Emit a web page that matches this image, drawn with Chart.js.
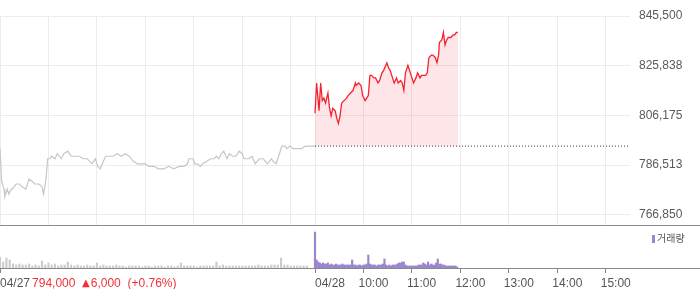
<!DOCTYPE html>
<html>
<head>
<meta charset="utf-8">
<script src="https://cdn.jsdelivr.net/npm/chart.js@4.4.1/dist/chart.umd.min.js"></script>
<style>
html, body { margin: 0; padding: 0; background: #fff; }
#wrap { position: relative; width: 700px; height: 289px; overflow: hidden; }
#price { position: absolute; left: 0; top: 0; }
#sep { position: absolute; left: 0; top: 225px; width: 700px; height: 1px; background: #8c8c8c; }
#vol { position: absolute; left: 0; top: 226px; }
#legend { position: absolute; left: 652px; top: 231px; font: 10px "Noto Sans CJK KR", sans-serif; color: #555; line-height: 14px; }
#legend i { display: inline-block; width: 3px; height: 8px; background: #9a86cc; margin-right: 2px; vertical-align: -1px; }
</style>
</head>
<body>
<div id="wrap">
  <canvas id="price" width="700" height="225"></canvas>
  <div id="sep"></div>
  <canvas id="vol" width="700" height="63"></canvas>
  <div id="legend"><i></i>거래량</div>
</div>
<script>
// minutes counted from 04/27 09:00 (04/28 09:00 = 390)
const prevMin = [0,2,5,6,9,11,14,15,20,24,27,32,36,40,43,48,52,54,57,59,
  62,64,68,71,76,79,84,88,93,98,103,108,114,118,121,124,128,131,135,140,
  145,150,155,160,165,170,175,180,184,191,196,203,209,215,222,228,232,234,239,241,
  244,248,251,256,261,265,268,271,274,277,281,284,288,292,296,300,302,306,308,312,
  316,321,326,331,336,338,342,345,349,353,355,359,363,368,373,378,383,390];
const prevPrice = [793000,780000,777000,774000,777000,775000,777000,777000,779000,779000,
  778000,777000,781000,780000,779000,779000,778000,775000,781000,789000,
  789000,790000,789000,791000,789000,791000,792000,790000,790000,790000,
  789000,789000,787000,789000,786000,785000,788000,790000,790000,790000,
  791000,790000,791000,790000,788000,787000,787000,787000,786000,786000,
  785000,785000,786000,785000,786000,786000,787000,789000,789000,787000,
  787000,786000,787000,788000,789000,789000,790000,789000,791000,792000,
  789000,791000,790000,790000,792000,791000,789000,789000,789000,790000,
  787000,789000,789000,787000,789000,788000,787000,790000,794000,794000,
  793000,794000,793000,793000,793000,794000,794000,794000];

const curMin = [390,392,395,397,399,401,403,406,408,410,412,415,417,419,421,423,426,429,431,434,
  437,440,441,444,447,449,452,454,456,458,460,463,465,468,470,473,475,479,481,483,
  486,488,491,493,496,498,500,502,505,507,510,512,515,517,520,522,525,527,529,531,
  534,536,539,541,543,544,547,549,551,553,555,557,558,561,563,565,567];
const curPrice = [807000,819000,808000,819000,812000,813000,811000,815000,809000,806000,
  809000,808000,805000,803000,806000,811000,812000,813000,814000,815000,
  816000,819000,818000,819000,818000,814000,812000,813000,814000,822000,
  822000,821000,821000,819000,820000,823000,824000,827000,825000,824000,
  821000,819000,821000,819000,820000,819000,816000,823000,826000,824000,
  821000,819000,821000,823000,821000,822000,822000,822000,823000,829000,
  830000,830000,829000,827000,830000,835000,836000,839000,834000,836000,
  837000,837000,837000,838000,838000,839000,839000];

const prevClose = 794000;
const prevChange = 6000;
const prevChangePct = 0.76;

// volume (relative units) in fixed time slots
const prevVolStart = 0, prevVolStep = 4;
const prevVol = [11,6,10,8,4,3,4,3,3,4, 2,3,2,7,3,5,3,4,2,3, 3,6,3,2,3,2,2,3,2,2,
  5,2,3,2,2,2,3,2,2,1, 2,2,2,2,1,2,2,1,2,2, 2,1,2,2,1,2,5,2,2,2,
  2,1,2,2,2,2,2,6,2,3, 2,2,2,2,2,2,2,2,2,2, 3,2,2,2,3,3,3,10,3,3,
  2,2,2,2,2,2];
const curVolStart = 390, curVolStep = 2;
const curVol = [36,8,6,5,4,5,4,4,5,3, 4,3,3,4,3,3,3,4,3,3, 3,3,3,8,3,3,2,3,3,2,
  3,3,4,13,4,3,3,3,2,3, 3,3,4,9,3,2,3,2,3,3, 3,4,5,5,6,6,3,2,2,2,
  2,2,2,2,3,3,3,5,4,3, 6,3,4,3,3,5,9,4,4,3, 3,2,2,2,2,2,2,2,1];

const priceTicks = [766850, 786512.5, 806175, 825837.5, 845500];
const gridMin = [0,60,120,180,240,300,360,390,450,510,570,630,690,750];
const axisMin = [0,390,450,510,570,630,690,750];
const axisLabels = ['04/27','04/28','10:00','11:00','12:00','13:00','14:00','15:00'];

Chart.defaults.font.family = '"Liberation Sans", Arial, sans-serif';
Chart.defaults.animation = false;

const xy = (xs, ys) => xs.map((x, i) => ({x: x, y: ys[i]}));

new Chart(document.getElementById('price'), {
  type: 'line',
  data: {
    datasets: [
      {
        data: xy(curMin, curPrice),
        borderColor: '#f5232f',
        borderWidth: 1.3,
        backgroundColor: 'rgba(248,60,75,0.13)',
        fill: {value: prevClose},
        pointRadius: 0,
      },
      {
        data: xy(prevMin, prevPrice),
        borderColor: '#c6c6cc',
        borderWidth: 1.2,
        pointRadius: 0,
        fill: false,
      },
      {
        data: [{x: 390, y: prevClose}, {x: 780, y: prevClose}],
        borderColor: '#333',
        borderWidth: 1,
        borderDash: [1, 2],
        pointRadius: 0,
        fill: false,
      },
    ]
  },
  options: {
    responsive: false,
    layout: {padding: {top: 16, left: 0, right: 0, bottom: 0}},
    plugins: {legend: {display: false}, tooltip: {enabled: false}},
    scales: {
      x: {
        type: 'linear',
        min: 0,
        max: 780,
        afterBuildTicks: s => { s.ticks = gridMin.map(v => ({value: v})); },
        ticks: {display: false},
        grid: {color: '#ececec', drawTicks: false},
        border: {display: false},
      },
      y: {
        position: 'right',
        min: 762780,
        max: 845500,
        afterBuildTicks: s => { s.ticks = priceTicks.map(v => ({value: v})); },
        afterFit: s => { s.width = 70; s.paddingTop = 0; s.paddingBottom = 0; },
        ticks: {
          padding: 9,
          color: '#5a5a5a',
          font: {size: 12},
          callback: v => Math.round(v).toLocaleString('en-US'),
        },
        grid: {color: '#ececec', drawTicks: false},
        border: {display: false},
      }
    }
  }
});

const bottomAxis = {
  id: 'bottomAxis',
  afterDraw(chart) {
    const ctx = chart.ctx;
    const area = chart.chartArea;
    const xs = chart.scales.x;
    ctx.save();
    ctx.strokeStyle = '#888';
    ctx.lineWidth = 1;
    ctx.beginPath();
    ctx.moveTo(0, area.bottom + 0.5);
    ctx.lineTo(chart.width, area.bottom + 0.5);
    ctx.stroke();
    ctx.font = '12px "Liberation Sans", Arial, sans-serif';
    ctx.textBaseline = 'middle';
    ctx.textAlign = 'left';
    const ty = area.bottom + 15.5;
    axisLabels.forEach((lab, i) => {
      const px = xs.getPixelForValue(axisMin[i]);
      const isDate = lab.indexOf('/') > 0;
      const lx = isDate ? Math.max(0, px) : px - 5;
      ctx.fillStyle = '#555';
      ctx.fillText(lab, lx, ty);
      if (i === 0) {
        let tx = lx + ctx.measureText(lab).width + 2;
        ctx.fillStyle = '#f2303a';
        const s1 = prevClose.toLocaleString('en-US') + '  ';
        ctx.fillText(s1, tx, ty);
        tx += ctx.measureText(s1).width;
        ctx.font = '10px "DejaVu Sans", sans-serif';
        ctx.fillText('▲', tx, ty);
        tx += ctx.measureText('▲').width + 1;
        ctx.font = '12px "Liberation Sans", Arial, sans-serif';
        ctx.fillText(prevChange.toLocaleString('en-US') + '  (+' + prevChangePct.toFixed(2) + '%)', tx, ty);
      }
    });
    ctx.restore();
  }
};

new Chart(document.getElementById('vol'), {
  type: 'bar',
  data: {
    datasets: [
      {
        data: xy(prevVol.map((v, i) => prevVolStart + i * prevVolStep), prevVol),
        backgroundColor: '#cccccc',
        barThickness: 1.5,
        grouped: false,
      },
      {
        data: xy(curVol.map((v, i) => curVolStart + i * curVolStep), curVol),
        backgroundColor: '#9a86cc',
        barThickness: 1.5,
        grouped: false,
      }
    ]
  },
  options: {
    responsive: false,
    layout: {padding: {top: 0, left: 0, right: 70, bottom: 16}},
    plugins: {legend: {display: false}, tooltip: {enabled: false}},
    scales: {
      x: {
        type: 'linear',
        min: 0,
        max: 780,
        offset: false,
        afterBuildTicks: s => { s.ticks = axisMin.map(v => ({value: v})); },
        ticks: {display: false},
        grid: {offset: false, drawOnChartArea: false, drawTicks: true, tickLength: 5, color: '#888'},
        border: {display: false},
      },
      y: {
        display: false,
        min: 0,
        max: 42,
      }
    }
  },
  plugins: [bottomAxis]
});
</script>
</body>
</html>
